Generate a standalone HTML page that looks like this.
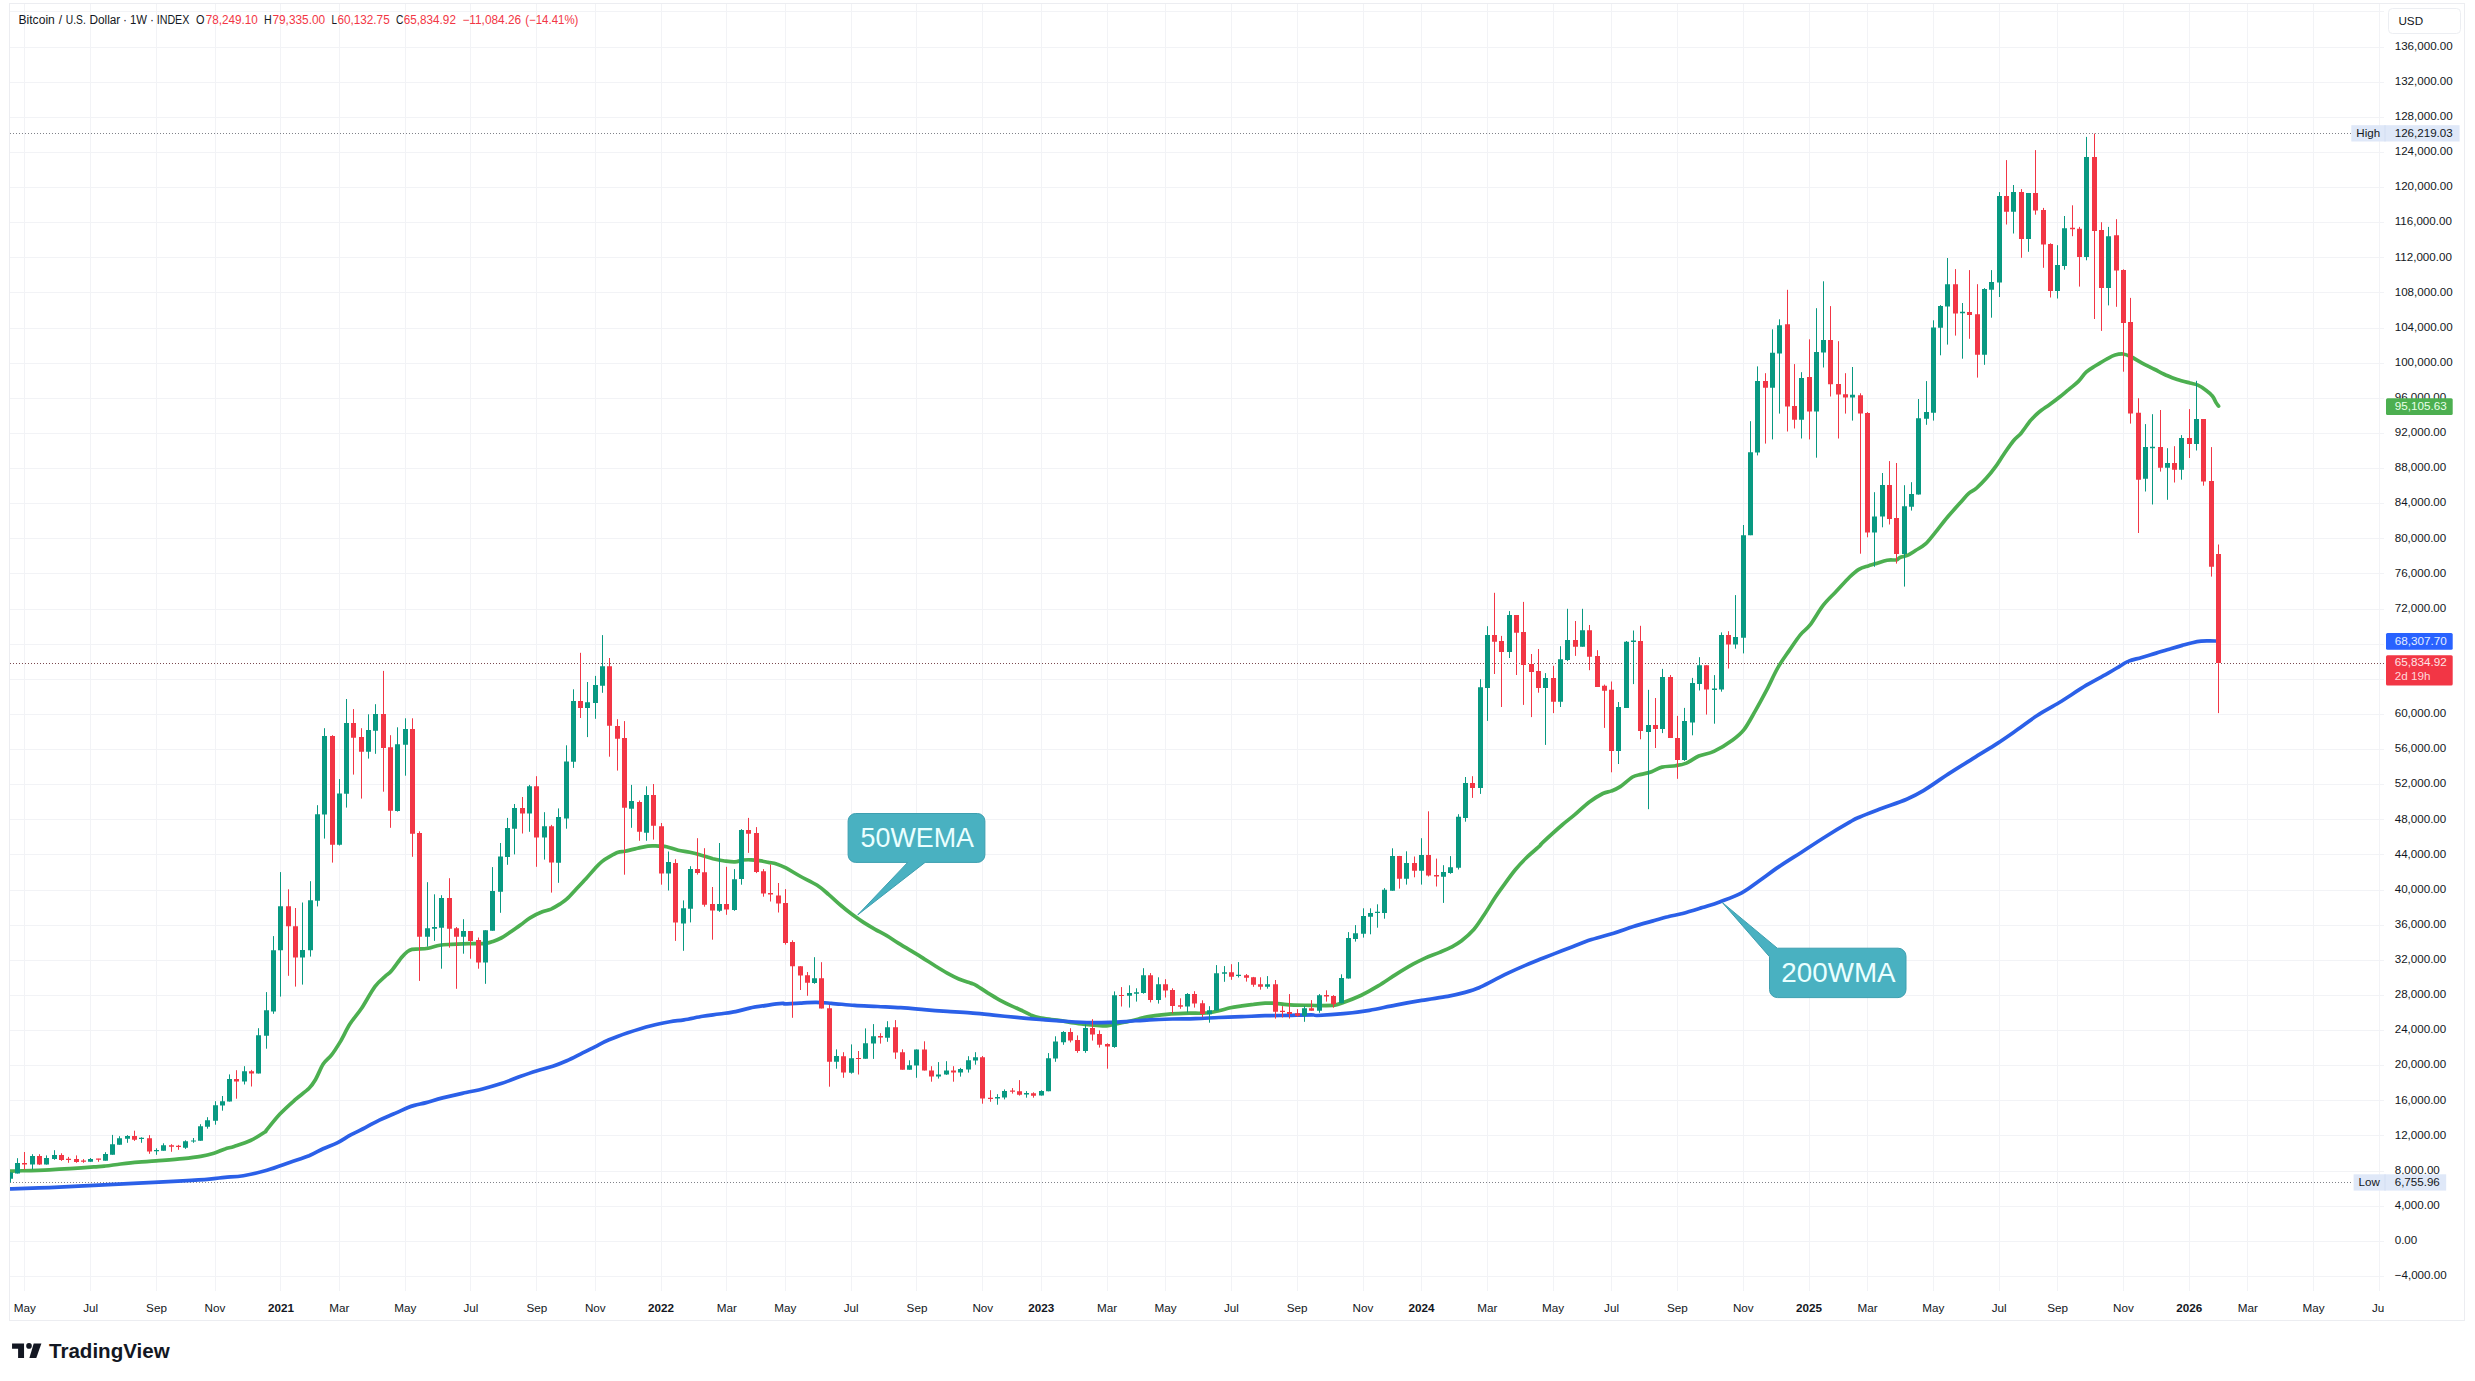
<!DOCTYPE html>
<html lang="en"><head><meta charset="utf-8"><title>Bitcoin / U.S. Dollar 1W</title>
<style>html,body{margin:0;padding:0;background:#fff}body{width:2475px;height:1381px;overflow:hidden}svg{display:block}</style></head>
<body>
<svg width="2475" height="1381" viewBox="0 0 2475 1381" font-family='"Liberation Sans", sans-serif'>
<rect width="2475" height="1381" fill="#fff"/>
<defs><clipPath id="pane"><rect x="10" y="4" width="2374" height="1287"/></clipPath><clipPath id="taxis"><rect x="10" y="1291" width="2374" height="30"/></clipPath></defs>
<rect x="9.5" y="3.5" width="2455" height="1317" fill="none" stroke="#ecedf1" stroke-width="1"/>
<path d="M24.5 4V1291 M90.5 4V1291 M156.5 4V1291 M215.5 4V1291 M280.5 4V1291 M339.5 4V1291 M405.5 4V1291 M470.5 4V1291 M536.5 4V1291 M595.5 4V1291 M661.5 4V1291 M726.5 4V1291 M785.5 4V1291 M851.5 4V1291 M916.5 4V1291 M982.5 4V1291 M1041.5 4V1291 M1107.5 4V1291 M1165.5 4V1291 M1231.5 4V1291 M1297.5 4V1291 M1363.5 4V1291 M1421.5 4V1291 M1487.5 4V1291 M1553.5 4V1291 M1611.5 4V1291 M1677.5 4V1291 M1743.5 4V1291 M1809.5 4V1291 M1867.5 4V1291 M1933.5 4V1291 M1999.5 4V1291 M2057.5 4V1291 M2123.5 4V1291 M2189.5 4V1291 M2247.5 4V1291 M2313.5 4V1291 M2379.5 4V1291 M10 1276.5H2384 M10 1241.5H2384 M10 1206.5H2384 M10 1171.5H2384 M10 1135.5H2384 M10 1100.5H2384 M10 1065.5H2384 M10 1030.5H2384 M10 995.5H2384 M10 960.5H2384 M10 925.5H2384 M10 890.5H2384 M10 854.5H2384 M10 819.5H2384 M10 784.5H2384 M10 749.5H2384 M10 714.5H2384 M10 679.5H2384 M10 644.5H2384 M10 609.5H2384 M10 573.5H2384 M10 538.5H2384 M10 503.5H2384 M10 468.5H2384 M10 433.5H2384 M10 398.5H2384 M10 363.5H2384 M10 328.5H2384 M10 292.5H2384 M10 257.5H2384 M10 222.5H2384 M10 187.5H2384 M10 152.5H2384 M10 117.5H2384 M10 82.5H2384 M10 47.5H2384 M10 11.5H2384" stroke="#f2f3f6" stroke-width="1" fill="none"/>
<path d="M10 133.5H2351" stroke="#808289" stroke-width="1" stroke-dasharray="1 2" fill="none"/>
<path d="M10 1182.5H2353" stroke="#808289" stroke-width="1" stroke-dasharray="1 2" fill="none"/>
<path d="M10 663.5H2384" stroke="#7a4a50" stroke-width="1" stroke-dasharray="1 2" fill="none"/>
<g clip-path="url(#pane)">
<path d="M5.0 1171.6C6.1 1171.5 4.3 1171.4 11.7 1171.1C19.1 1170.8 35.7 1170.5 49.4 1169.8C63.1 1169.1 84.6 1167.6 93.9 1166.9C103.2 1166.3 101.0 1166.5 105.4 1166.0C109.9 1165.6 115.1 1164.6 120.6 1164.0C126.0 1163.4 132.4 1162.7 138.3 1162.2C144.3 1161.7 148.7 1161.5 156.1 1160.9C163.5 1160.3 175.4 1159.4 182.8 1158.7C190.2 1157.9 195.4 1157.3 200.6 1156.4C205.7 1155.6 209.8 1154.6 213.9 1153.3C218.0 1152.1 221.6 1150.0 225.0 1148.9C228.4 1147.7 229.8 1147.8 234.1 1146.4C238.3 1145.0 245.4 1142.9 250.5 1140.5C255.5 1138.2 261.8 1134.1 264.5 1132.3C267.2 1130.6 264.1 1133.1 266.6 1130.0C269.2 1126.9 275.2 1119.0 279.9 1114.0C284.7 1109.0 290.1 1104.2 294.9 1099.9C299.8 1095.6 305.6 1091.7 309.1 1088.2C312.6 1084.7 313.4 1083.1 315.8 1079.0C318.1 1075.0 320.6 1068.1 323.2 1064.0C325.9 1060.0 328.8 1058.5 331.6 1054.9C334.4 1051.3 336.8 1047.5 339.9 1042.4C343.0 1037.3 346.3 1029.8 349.9 1024.1C353.5 1018.4 357.4 1014.5 361.6 1008.3C365.7 1002.0 371.0 991.9 374.9 986.6C378.8 981.3 382.1 979.2 384.9 976.6C387.6 974.0 388.8 974.0 391.5 970.8C394.3 967.6 398.9 960.7 401.5 957.5C404.2 954.3 405.6 953.0 407.4 951.6C409.1 950.3 410.0 949.8 412.0 949.4C413.9 949.0 416.2 949.2 418.9 949.0C421.6 948.9 424.7 948.9 428.2 948.2C431.6 947.6 435.9 945.9 439.8 945.2C443.6 944.6 447.5 944.6 451.3 944.4C455.2 944.2 459.1 944.0 462.9 943.8C466.8 943.7 470.6 943.7 474.5 943.6C478.4 943.5 483.0 943.6 486.1 943.3C489.2 942.9 490.5 942.4 493.0 941.5C495.6 940.6 498.4 939.5 501.2 938.0C503.9 936.6 506.0 935.1 509.3 932.8C512.5 930.6 517.4 927.2 520.8 924.7C524.3 922.2 526.6 919.9 530.1 917.8C533.6 915.6 538.2 913.4 541.7 912.0C545.2 910.5 547.9 910.4 551.0 909.1C554.1 907.7 557.5 905.6 560.2 903.9C562.9 902.1 564.5 901.2 567.2 898.7C569.9 896.1 573.4 892.1 576.5 888.8C579.5 885.5 582.6 882.3 585.7 879.0C588.8 875.6 592.3 871.4 595.0 868.5C597.7 865.6 599.4 863.6 601.9 861.6C604.4 859.6 607.3 857.9 610.0 856.4C612.8 854.8 615.6 853.2 618.2 852.3C620.7 851.4 621.9 851.8 625.1 851.2C628.3 850.5 633.7 849.2 637.5 848.3C641.3 847.5 645.0 846.5 647.9 846.1C650.8 845.7 651.9 845.8 655.0 845.9C658.1 846.0 662.7 846.1 666.6 846.8C670.4 847.6 674.3 849.4 678.2 850.3C682.0 851.2 685.9 851.5 689.8 852.3C693.6 853.1 697.5 854.1 701.3 855.2C705.2 856.2 709.1 857.7 712.9 858.7C716.8 859.6 720.8 860.4 724.5 861.0C728.2 861.5 731.8 862.1 734.9 861.9C738.0 861.7 740.3 860.4 743.0 860.0C745.7 859.7 748.4 859.7 751.2 859.8C753.9 859.9 756.4 860.2 759.3 860.6C762.2 861.0 765.6 861.8 768.5 862.4C771.4 862.9 773.7 862.9 776.6 863.9C779.5 864.8 782.0 865.9 785.9 867.9C789.8 870.0 794.6 873.1 799.8 876.0C805.0 878.9 812.4 882.2 817.2 885.3C822.0 888.4 824.9 891.3 828.8 894.6C832.6 897.8 836.5 901.7 840.4 905.0C844.2 908.3 848.1 911.4 851.9 914.3C855.8 917.2 859.7 919.9 863.5 922.4C867.4 924.9 871.2 927.1 875.1 929.3C879.0 931.5 882.8 933.4 886.7 935.7C890.6 938.0 894.4 940.8 898.3 943.2C902.1 945.6 906.0 947.9 909.9 950.2C913.7 952.5 917.3 954.5 921.4 957.1C925.6 959.7 930.7 963.1 935.0 965.8C939.3 968.5 943.2 971.0 947.2 973.2C951.1 975.4 954.9 977.3 958.8 979.0C962.6 980.6 967.5 982.0 970.4 983.0C973.2 984.1 973.2 983.7 976.1 985.3C979.0 987.0 983.9 990.4 987.7 992.9C991.6 995.3 995.5 997.7 999.3 999.8C1003.2 1001.9 1007.0 1003.8 1010.9 1005.6C1014.8 1007.4 1019.2 1009.3 1022.5 1010.8C1025.8 1012.4 1027.7 1013.7 1030.6 1014.9C1033.5 1016.0 1036.4 1017.0 1039.9 1017.8C1043.3 1018.5 1047.7 1019.0 1051.4 1019.5C1055.2 1020.0 1058.6 1020.4 1062.4 1020.9C1066.1 1021.5 1070.1 1022.4 1074.0 1023.0C1077.8 1023.6 1081.7 1024.0 1085.5 1024.4C1089.4 1024.8 1093.7 1025.1 1097.1 1025.3C1100.6 1025.6 1103.1 1026.2 1106.4 1025.9C1109.7 1025.7 1113.2 1024.6 1116.8 1023.8C1120.5 1023.1 1124.9 1022.3 1128.4 1021.5C1131.9 1020.7 1135.2 1019.9 1137.7 1019.2C1140.2 1018.5 1140.6 1018.0 1143.5 1017.5C1146.4 1016.9 1151.2 1016.2 1155.1 1015.7C1158.9 1015.2 1162.8 1014.7 1166.6 1014.3C1170.5 1014.0 1174.4 1013.8 1178.2 1013.6C1182.1 1013.4 1185.9 1013.3 1189.8 1013.2C1193.7 1013.1 1197.9 1013.3 1201.4 1013.2C1204.9 1013.1 1207.8 1012.9 1210.7 1012.5C1213.6 1012.1 1215.5 1011.5 1218.8 1010.7C1222.1 1010.0 1226.5 1008.7 1230.4 1007.8C1234.2 1007.0 1238.1 1006.5 1241.9 1005.9C1245.8 1005.3 1249.7 1004.8 1253.5 1004.4C1257.4 1003.9 1262.0 1003.4 1265.1 1003.2C1268.2 1003.0 1269.2 1003.1 1272.1 1003.2C1275.0 1003.4 1278.8 1003.8 1282.5 1004.1C1286.2 1004.5 1289.2 1004.9 1294.1 1005.1C1298.9 1005.3 1307.6 1005.2 1311.4 1005.3C1315.3 1005.4 1313.5 1005.6 1317.4 1005.6C1321.3 1005.5 1330.4 1005.6 1334.8 1005.1C1339.1 1004.5 1339.1 1004.0 1343.4 1002.4C1347.8 1000.9 1355.0 998.2 1360.8 995.5C1366.6 992.7 1372.4 989.4 1378.2 985.9C1384.0 982.5 1389.8 978.3 1395.6 974.6C1401.4 971.0 1408.0 967.0 1413.0 964.2C1417.9 961.5 1420.8 960.1 1425.1 958.1C1429.5 956.2 1434.7 954.4 1439.0 952.6C1443.4 950.7 1447.4 949.2 1451.2 947.2C1455.0 945.2 1457.9 943.7 1461.6 940.8C1465.4 937.8 1470.0 933.8 1473.8 929.5C1477.6 925.1 1480.7 919.9 1484.2 914.7C1487.7 909.5 1491.2 903.4 1494.6 898.2C1498.1 893.0 1501.6 888.2 1505.1 883.4C1508.5 878.6 1512.0 873.7 1515.5 869.5C1519.0 865.3 1521.8 862.2 1525.9 858.2C1530.0 854.2 1537.3 848.3 1540.0 845.7C1542.7 843.1 1538.6 846.3 1542.3 842.8C1546.0 839.4 1556.6 829.7 1562.1 825.0C1567.6 820.3 1570.6 818.2 1575.1 814.4C1579.6 810.6 1584.4 805.7 1589.0 802.2C1593.7 798.8 1599.2 795.4 1602.9 793.5C1606.7 791.7 1608.7 792.1 1611.6 790.9C1614.5 789.8 1616.8 788.9 1620.3 786.6C1623.8 784.3 1629.0 779.1 1632.5 777.0C1636.0 775.0 1638.0 775.3 1641.2 774.4C1644.4 773.6 1648.1 773.0 1651.6 771.8C1655.1 770.6 1658.0 768.1 1662.0 767.1C1666.1 766.1 1671.9 766.4 1675.9 765.7C1680.0 765.1 1682.5 764.7 1686.4 763.1C1690.2 761.5 1694.2 758.0 1698.8 756.0C1703.4 754.1 1708.2 754.0 1713.9 751.3C1719.5 748.7 1727.7 743.7 1732.7 740.0C1737.7 736.4 1740.2 734.6 1744.0 729.7C1747.8 724.8 1751.5 717.5 1755.3 710.9C1759.1 704.3 1762.8 697.4 1766.6 690.2C1770.4 682.9 1774.1 674.1 1777.9 667.6C1781.7 661.0 1785.4 656.1 1789.2 650.6C1793.0 645.1 1797.0 638.8 1800.5 634.6C1803.9 630.4 1806.1 630.1 1809.9 625.2C1813.7 620.3 1818.7 611.1 1823.1 605.4C1827.5 599.8 1831.9 596.0 1836.3 591.3C1840.7 586.6 1845.7 580.9 1849.4 577.2C1853.2 573.5 1855.7 571.2 1858.9 569.3C1862.0 567.4 1865.4 566.8 1868.3 565.9C1871.1 565.0 1872.7 564.6 1875.8 563.6C1878.9 562.7 1883.6 560.9 1887.1 560.2C1890.5 559.6 1894.4 560.3 1896.5 559.9C1898.7 559.4 1898.1 558.3 1900.0 557.5C1901.9 556.6 1905.3 556.3 1908.0 555.1C1910.6 553.9 1913.0 552.1 1915.9 550.3C1918.9 548.4 1922.3 546.8 1925.5 543.9C1928.7 541.0 1931.3 537.3 1935.0 532.8C1938.8 528.2 1943.5 521.9 1947.8 516.8C1952.0 511.8 1957.1 506.3 1960.5 502.5C1964.0 498.6 1965.8 496.1 1968.5 493.7C1971.2 491.3 1973.5 490.7 1976.5 488.2C1979.4 485.6 1982.8 482.2 1986.0 478.6C1989.2 475.0 1992.7 470.6 1995.6 466.6C1998.5 462.7 2000.6 458.9 2003.5 454.7C2006.5 450.5 2010.2 444.7 2013.1 441.2C2016.0 437.6 2018.2 436.6 2021.1 433.2C2024.0 429.7 2027.7 423.9 2030.6 420.4C2033.6 417.0 2035.4 415.1 2038.6 412.5C2041.8 409.8 2046.3 407.0 2049.7 404.5C2053.2 402.0 2056.1 399.9 2059.3 397.3C2062.5 394.8 2065.7 392.0 2068.9 389.4C2072.0 386.7 2075.5 384.3 2078.4 381.4C2081.3 378.5 2083.5 374.5 2086.4 371.9C2089.3 369.2 2092.5 367.7 2095.9 365.5C2099.4 363.3 2103.9 360.5 2107.1 358.8C2110.3 357.1 2112.4 355.9 2115.1 355.1C2117.7 354.3 2120.4 353.8 2123.0 354.0C2125.7 354.3 2127.8 355.2 2131.0 356.7C2134.2 358.2 2138.2 361.0 2142.1 363.1C2146.1 365.2 2150.6 367.3 2154.9 369.5C2159.1 371.6 2163.9 374.2 2167.6 375.8C2171.3 377.5 2173.5 378.3 2177.2 379.5C2180.9 380.7 2186.5 382.1 2189.9 383.0C2193.4 383.9 2195.2 383.9 2197.9 385.1C2200.6 386.3 2203.5 388.4 2205.9 390.2C2208.3 392.0 2210.5 393.6 2212.2 395.8C2214.0 397.9 2215.2 401.2 2216.2 402.9C2217.3 404.7 2218.2 405.6 2218.6 406.1" fill="none" stroke="#4caf50" stroke-width="3.7" stroke-linejoin="round" stroke-linecap="round"/>
<path d="M5.0 1189.2C6.1 1189.1 4.3 1189.2 11.7 1188.9C19.1 1188.6 35.7 1188.1 49.4 1187.6C63.1 1187.0 79.1 1186.1 93.9 1185.3C108.7 1184.6 123.5 1183.9 138.3 1183.1C153.1 1182.4 170.9 1181.6 182.8 1180.9C194.6 1180.2 202.4 1179.7 209.4 1179.1C216.5 1178.5 219.3 1177.9 225.0 1177.3C230.7 1176.8 236.5 1176.9 243.4 1175.7C250.4 1174.5 259.1 1172.5 266.9 1170.3C274.7 1168.1 283.3 1164.7 290.3 1162.3C297.3 1159.9 303.6 1158.0 309.1 1155.8C314.5 1153.5 318.4 1150.9 323.1 1148.7C327.8 1146.6 332.5 1145.2 337.2 1142.9C341.9 1140.5 346.5 1137.2 351.2 1134.7C355.9 1132.1 360.6 1130.1 365.3 1127.6C370.0 1125.2 374.7 1122.4 379.4 1120.1C384.0 1117.9 388.7 1116.1 393.4 1114.0C398.1 1112.0 404.0 1109.2 407.5 1107.7C411.0 1106.3 411.4 1106.2 414.5 1105.4C417.6 1104.5 421.5 1103.8 426.2 1102.6C430.9 1101.3 436.0 1099.6 442.6 1097.9C449.3 1096.2 459.4 1094.0 466.1 1092.5C472.7 1091.0 476.6 1090.5 482.5 1089.0C488.3 1087.5 495.0 1085.6 501.2 1083.6C507.5 1081.5 514.1 1078.7 520.0 1076.5C525.8 1074.4 530.9 1072.6 536.4 1070.9C541.8 1069.2 547.7 1067.9 552.8 1066.2C557.8 1064.6 562.1 1062.9 566.8 1060.8C571.5 1058.8 576.2 1056.2 580.9 1053.8C585.6 1051.5 590.3 1049.1 594.9 1046.8C599.6 1044.4 603.5 1042.1 609.0 1039.8C614.5 1037.4 620.7 1035.1 627.8 1032.7C634.8 1030.4 644.2 1027.5 651.2 1025.7C658.2 1023.9 664.5 1022.7 669.9 1021.7C675.4 1020.7 678.5 1020.7 684.0 1019.8C689.5 1018.9 696.9 1017.3 702.7 1016.3C708.6 1015.3 713.7 1014.8 719.2 1014.0C724.6 1013.2 730.5 1012.6 735.6 1011.6C740.6 1010.7 744.1 1009.2 749.6 1008.1C755.1 1007.0 762.9 1005.9 768.4 1005.1C773.8 1004.3 779.7 1003.6 782.4 1003.4C785.2 1003.2 782.1 1003.9 785.0 1003.9C787.9 1003.8 794.8 1003.3 800.1 1003.1C805.3 1002.8 811.1 1002.3 816.3 1002.4C821.5 1002.4 825.0 1002.8 831.3 1003.3C837.7 1003.8 846.8 1004.8 854.5 1005.4C862.2 1005.9 870.0 1006.1 877.7 1006.5C885.4 1006.9 893.1 1007.2 900.8 1007.7C908.6 1008.2 916.3 1009.0 924.0 1009.7C931.7 1010.3 939.5 1010.9 947.2 1011.4C954.9 1011.9 962.6 1012.3 970.4 1012.9C978.1 1013.5 985.8 1014.4 993.5 1015.1C1001.2 1015.9 1009.0 1016.7 1016.7 1017.4C1024.4 1018.2 1035.1 1019.1 1039.9 1019.5C1044.6 1019.9 1040.3 1019.4 1045.0 1019.8C1049.7 1020.1 1060.4 1021.0 1068.2 1021.5C1075.9 1022.0 1084.4 1022.5 1091.3 1022.7C1098.3 1022.8 1104.1 1022.6 1109.9 1022.4C1115.7 1022.3 1119.5 1022.0 1126.1 1021.5C1132.7 1021.1 1141.5 1020.2 1149.3 1019.8C1157.0 1019.4 1164.7 1019.2 1172.4 1019.0C1180.2 1018.8 1187.9 1018.9 1195.6 1018.6C1203.3 1018.4 1211.0 1017.8 1218.8 1017.5C1226.5 1017.1 1234.2 1016.9 1241.9 1016.7C1249.7 1016.4 1257.4 1015.9 1265.1 1015.7C1272.8 1015.5 1280.6 1015.5 1288.3 1015.4C1296.0 1015.2 1306.6 1014.8 1311.4 1014.8C1316.3 1014.8 1312.0 1015.7 1317.4 1015.5C1322.7 1015.3 1334.8 1014.6 1343.4 1013.7C1352.1 1012.9 1360.8 1011.7 1369.5 1010.3C1378.2 1008.8 1386.9 1006.7 1395.6 1005.1C1404.3 1003.4 1413.0 1001.8 1421.7 1000.4C1430.3 998.9 1440.5 997.7 1447.7 996.4C1455.0 995.0 1459.9 993.8 1465.1 992.4C1470.3 990.9 1474.1 989.8 1479.0 987.7C1483.9 985.6 1489.7 982.3 1494.6 979.9C1499.6 977.4 1503.3 975.4 1508.5 972.9C1513.8 970.4 1520.7 967.3 1525.9 965.1C1531.2 962.8 1535.2 961.3 1540.0 959.3C1544.8 957.4 1549.3 955.7 1554.6 953.6C1559.9 951.5 1565.7 949.3 1571.9 947.0C1578.0 944.6 1584.6 941.9 1591.5 939.6C1598.5 937.3 1606.7 935.3 1613.7 933.2C1620.7 931.0 1626.8 928.6 1633.4 926.5C1640.0 924.5 1647.4 922.5 1653.1 920.9C1658.8 919.2 1662.9 917.9 1667.9 916.7C1672.8 915.4 1676.9 915.0 1682.6 913.5C1688.4 912.0 1696.2 909.5 1702.3 907.6C1708.5 905.6 1713.0 904.4 1719.6 901.9C1726.1 899.4 1735.2 896.3 1741.7 892.8C1748.3 889.3 1752.8 885.3 1759.0 881.0C1765.1 876.7 1771.7 871.7 1778.7 866.9C1785.6 862.2 1793.0 857.7 1800.8 852.7C1808.6 847.6 1817.2 841.8 1825.4 836.7C1833.6 831.5 1844.3 825.2 1850.1 821.9C1855.8 818.6 1854.6 819.2 1859.9 817.0C1865.2 814.7 1874.3 811.3 1882.1 808.3C1889.9 805.4 1899.7 802.2 1906.7 799.2C1913.7 796.2 1916.9 794.6 1923.9 790.4C1930.9 786.1 1940.3 779.2 1948.5 773.9C1956.7 768.5 1965.0 763.5 1973.2 758.4C1981.4 753.2 1990.4 747.9 1997.8 743.1C2005.2 738.3 2010.9 734.2 2017.5 729.6C2024.0 725.0 2030.2 720.0 2037.2 715.5C2044.1 711.0 2051.1 707.5 2059.3 702.5C2067.5 697.4 2078.2 690.2 2086.4 685.2C2094.6 680.3 2103.0 676.1 2108.6 672.9C2114.2 669.7 2116.6 668.1 2120.0 666.1C2123.4 664.2 2125.1 662.5 2128.7 661.1C2132.3 659.6 2137.1 658.8 2141.7 657.4C2146.3 656.1 2151.4 654.5 2156.2 653.1C2161.0 651.7 2166.3 650.0 2170.7 648.8C2175.0 647.5 2178.7 646.4 2182.3 645.4C2185.9 644.4 2189.3 643.4 2192.4 642.7C2195.5 642.0 2198.2 641.5 2201.1 641.2C2204.0 640.9 2206.9 641.0 2209.8 640.9C2212.7 640.9 2217.0 641.1 2218.5 641.1" fill="none" stroke="#2b60e8" stroke-width="3.7" stroke-linejoin="round" stroke-linecap="round"/>
<path d="M10.5 1172.4V1182.2M17.5 1158.2V1173.5M32.5 1154.2V1169.3M46.5 1155.4V1164.6M54.5 1150.2V1159.8M90.5 1158.0V1161.8M105.5 1152.2V1160.7M112.5 1134.9V1154.7M119.5 1136.2V1144.7M127.5 1135.1V1142.8M141.5 1137.3V1142.8M156.5 1148.3V1154.8M163.5 1143.3V1150.7M185.5 1140.3V1148.9M193.5 1138.0V1142.8M200.5 1124.2V1140.8M207.5 1117.2V1128.7M215.5 1101.2V1124.7M222.5 1096.0V1110.7M229.5 1074.4V1101.5M244.5 1066.2V1084.5M258.5 1028.2V1073.5M266.5 992.1V1048.7M273.5 936.1V1013.8M280.5 872.1V996.6M302.5 902.5V984.6M310.5 881.2V956.6M317.5 805.2V906.4M324.5 728.2V838.6M339.5 779.1V845.5M346.5 699.0V807.6M368.5 714.3V758.6M375.5 704.2V753.8M397.5 727.3V811.6M405.5 718.3V775.7M427.5 882.2V946.7M434.5 894.3V940.9M441.5 895.2V968.7M463.5 919.2V953.7M485.5 930.2V983.8M492.5 867.1V930.7M500.5 843.0V912.8M507.5 817.9V864.8M514.5 804.0V854.4M529.5 784.9V831.8M544.5 812.2V859.6M558.5 808.4V882.8M566.5 745.3V828.7M573.5 689.3V767.9M587.5 682.0V737.1M595.5 675.9V718.8M602.5 635.1V692.8M631.5 784.9V827.8M646.5 786.3V840.8M668.5 851.5V890.5M683.5 900.4V950.8M690.5 866.2V922.4M719.5 843.0V911.9M734.5 869.1V910.8M741.5 829.1V884.7M814.5 957.2V983.8M836.5 1049.4V1068.7M851.5 1044.4V1073.7M865.5 1028.4V1058.7M873.5 1024.1V1058.9M887.5 1021.2V1041.8M909.5 1060.3V1069.7M916.5 1049.4V1077.8M938.5 1062.1V1078.6M946.5 1061.2V1074.9M960.5 1067.9V1076.6M968.5 1056.2V1072.6M975.5 1052.2V1064.7M997.5 1094.2V1104.7M1004.5 1089.4V1099.4M1026.5 1091.1V1097.7M1041.5 1090.2V1095.6M1048.5 1053.1V1091.3M1055.5 1036.3V1061.8M1063.5 1031.1V1044.8M1085.5 1024.4V1052.8M1114.5 991.4V1047.8M1129.5 985.3V1007.6M1136.5 988.3V1001.6M1143.5 968.2V993.7M1158.5 977.3V1003.6M1187.5 993.1V1012.5M1209.5 1006.2V1022.7M1216.5 965.1V1010.5M1224.5 966.1V981.8M1238.5 962.1V977.5M1267.5 976.1V988.7M1304.5 1005.9V1021.8M1319.5 994.1V1012.8M1341.5 974.3V1003.3M1348.5 932.1V978.6M1355.5 925.1V941.6M1363.5 908.3V937.6M1370.5 908.3V934.3M1377.5 904.3V927.7M1384.5 888.1V918.7M1392.5 848.3V890.7M1406.5 851.3V884.6M1421.5 838.2V884.6M1443.5 865.2V902.9M1450.5 856.1V873.8M1458.5 814.2V869.5M1465.5 777.0V821.7M1480.5 679.2V793.9M1487.5 626.2V720.9M1509.5 611.1V658.0M1545.5 673.1V744.9M1560.5 646.2V707.0M1567.5 608.8V661.1M1582.5 608.8V646.7M1618.5 702.0V764.0M1626.5 641.0V707.9M1633.5 630.5V684.1M1648.5 689.8V809.2M1662.5 668.9V733.1M1684.5 707.9V760.9M1692.5 677.9V735.3M1699.5 657.2V690.5M1714.5 675.1V723.7M1721.5 632.4V691.7M1735.5 595.1V648.7M1743.5 525.0V653.4M1750.5 421.2V535.2M1757.5 366.4V455.4M1772.5 329.3V439.4M1779.5 319.3V413.6M1801.5 372.2V438.5M1816.5 308.2V457.7M1823.5 281.3V367.5M1852.5 367.0V420.6M1874.5 492.2V566.8M1882.5 473.0V527.3M1904.5 485.2V586.6M1911.5 482.2V510.6M1918.5 399.0V494.6M1926.5 381.1V424.8M1933.5 320.3V420.6M1940.5 305.1V355.3M1947.5 258.0V344.6M1962.5 303.0V358.7M1984.5 288.1V364.8M1991.5 270.1V317.7M1999.5 192.1V297.0M2013.5 185.0V233.5M2028.5 193.0V251.8M2057.5 245.2V298.5M2064.5 216.0V269.7M2086.5 136.9V260.3M2108.5 226.9V305.4M2145.5 424.1V491.5M2152.5 414.2V504.5M2167.5 448.2V499.8M2181.5 435.1V479.7M2196.5 380.8V450.5" stroke="#089981" stroke-width="1" fill="none"/>
<path d="M24.5 1152.0V1169.8M39.5 1154.2V1164.9M61.5 1153.3V1160.9M68.5 1156.9V1162.8M76.5 1155.4V1162.8M83.5 1159.1V1162.8M98.5 1158.8V1161.8M134.5 1130.7V1140.9M149.5 1135.1V1153.8M171.5 1144.2V1151.8M178.5 1144.9V1149.8M236.5 1070.2V1098.7M251.5 1069.9V1086.5M288.5 889.3V975.8M295.5 908.0V986.6M332.5 735.2V862.6M353.5 709.1V774.6M361.5 728.2V798.6M383.5 670.9V791.7M390.5 735.2V827.8M412.5 718.3V856.8M419.5 831.3V980.9M449.5 878.2V947.7M456.5 927.0V988.8M470.5 931.1V958.7M478.5 937.5V968.7M522.5 797.0V833.5M536.5 776.2V866.8M551.5 824.9V892.6M580.5 652.8V718.0M609.5 658.0V756.7M617.5 719.2V770.6M624.5 721.1V874.7M639.5 800.5V840.8M653.5 784.0V839.6M661.5 823.0V884.7M675.5 859.2V940.9M697.5 838.2V874.6M704.5 848.2V906.7M712.5 887.0V939.7M726.5 866.8V914.8M748.5 817.9V852.9M756.5 827.1V873.1M763.5 869.1V896.7M770.5 864.4V901.5M778.5 883.0V912.5M785.5 889.1V944.6M792.5 940.3V1017.8M800.5 966.2V990.0M807.5 972.0V995.8M821.5 962.2V1008.5M829.5 1005.0V1086.7M843.5 1052.2V1077.8M858.5 1051.0V1074.5M880.5 1033.2V1043.6M895.5 1020.1V1058.9M902.5 1049.3V1069.7M924.5 1041.3V1070.5M931.5 1066.2V1081.7M953.5 1066.2V1081.7M982.5 1056.0V1103.7M990.5 1090.2V1101.8M1012.5 1088.1V1093.6M1019.5 1080.1V1095.6M1033.5 1092.3V1097.7M1070.5 1028.2V1042.4M1077.5 1035.4V1052.8M1092.5 1019.2V1040.6M1099.5 1030.4V1047.6M1107.5 1043.3V1068.7M1121.5 987.1V1006.5M1150.5 973.1V1002.4M1165.5 979.2V997.5M1172.5 988.3V1013.4M1180.5 998.3V1008.8M1194.5 991.2V1007.6M1202.5 1000.3V1017.1M1231.5 964.2V979.8M1246.5 974.0V981.6M1253.5 976.9V986.8M1260.5 977.3V989.7M1275.5 980.0V1018.6M1282.5 1006.1V1017.5M1289.5 994.1V1018.6M1297.5 1009.1V1016.7M1311.5 1000.1V1010.7M1326.5 990.3V1001.6M1333.5 995.1V1007.7M1399.5 855.9V888.6M1414.5 856.5V877.3M1428.5 811.3V876.5M1436.5 858.6V886.5M1472.5 776.2V797.9M1494.5 592.8V674.0M1501.5 635.9V707.0M1516.5 615.1V675.0M1523.5 601.9V704.9M1531.5 654.0V717.1M1538.5 649.0V692.7M1553.5 665.8V713.1M1575.5 621.0V655.9M1589.5 625.0V670.2M1597.5 650.2V687.0M1604.5 684.6V727.9M1611.5 681.5V772.3M1640.5 625.8V739.3M1655.5 698.0V748.0M1670.5 675.0V737.9M1677.5 715.9V778.8M1706.5 665.3V714.6M1728.5 631.2V668.5M1765.5 373.2V443.6M1787.5 289.8V431.5M1794.5 364.1V428.5M1809.5 339.3V439.4M1830.5 306.1V396.5M1838.5 341.2V438.5M1845.5 373.2V413.6M1860.5 393.3V553.7M1867.5 412.1V537.3M1889.5 461.1V524.5M1896.5 463.0V563.6M1955.5 269.1V335.6M1969.5 270.1V338.8M1977.5 284.2V377.6M2006.5 160.1V224.5M2021.5 189.1V257.8M2035.5 150.1V214.7M2043.5 207.9V267.8M2050.5 243.3V297.5M2072.5 205.3V236.2M2079.5 226.9V286.6M2094.5 133.6V319.0M2101.5 222.2V330.9M2116.5 219.2V306.8M2123.5 269.3V371.7M2130.5 297.9V423.6M2138.5 398.2V533.0M2160.5 410.0V471.6M2174.5 446.2V482.5M2189.5 409.1V458.0M2203.5 419.1V485.7M2211.5 447.1V576.6M2218.5 544.5V713.1" stroke="#f23645" stroke-width="1" fill="none"/>
<path d="M8.0 1172.4h5V1178.7h-5zM15.0 1163.1h5V1173.5h-5zM30.0 1156.0h5V1164.6h-5zM44.0 1158.0h5V1164.6h-5zM52.0 1155.1h5V1158.9h-5zM88.0 1159.1h5V1161.8h-5zM103.0 1154.0h5V1160.7h-5zM110.0 1144.2h5V1154.7h-5zM117.0 1138.2h5V1144.7h-5zM125.0 1136.0h5V1138.7h-5zM139.0 1137.8h5V1139.0h-5zM154.0 1150.1h5V1151.3h-5zM161.0 1145.3h5V1150.7h-5zM183.0 1141.3h5V1147.7h-5zM191.0 1140.4h5V1141.6h-5zM198.0 1126.2h5V1140.8h-5zM205.0 1120.2h5V1126.7h-5zM213.0 1105.2h5V1120.7h-5zM220.0 1101.2h5V1105.6h-5zM227.0 1079.0h5V1101.5h-5zM242.0 1071.2h5V1081.5h-5zM256.0 1035.2h5V1073.5h-5zM264.0 1010.3h5V1035.7h-5zM271.0 950.3h5V1011.6h-5zM278.0 906.3h5V950.3h-5zM300.0 950.0h5V957.5h-5zM308.0 900.3h5V950.3h-5zM315.0 814.2h5V900.8h-5zM322.0 736.0h5V814.6h-5zM337.0 793.4h5V844.7h-5zM344.0 723.0h5V793.7h-5zM366.0 730.0h5V751.7h-5zM373.0 714.0h5V730.8h-5zM395.0 744.2h5V811.1h-5zM403.0 729.1h5V744.7h-5zM425.0 928.2h5V936.7h-5zM432.0 927.0h5V928.8h-5zM439.0 898.1h5V927.8h-5zM461.0 931.1h5V936.7h-5zM483.0 930.2h5V962.6h-5zM490.0 891.1h5V930.7h-5zM498.0 856.4h5V891.7h-5zM505.0 828.0h5V857.0h-5zM512.0 808.0h5V828.7h-5zM527.0 786.3h5V813.6h-5zM542.0 826.2h5V837.4h-5zM556.0 817.0h5V862.7h-5zM564.0 761.4h5V818.4h-5zM571.0 701.1h5V761.8h-5zM585.0 702.3h5V707.9h-5zM593.0 685.0h5V702.9h-5zM600.0 666.2h5V685.8h-5zM629.0 801.0h5V808.7h-5zM644.0 795.0h5V832.7h-5zM666.0 862.1h5V873.5h-5zM681.0 908.2h5V923.5h-5zM688.0 869.1h5V908.7h-5zM717.0 904.1h5V910.8h-5zM732.0 879.2h5V909.9h-5zM739.0 829.9h5V878.9h-5zM812.0 978.2h5V983.0h-5zM834.0 1056.0h5V1061.8h-5zM849.0 1058.3h5V1072.8h-5zM863.0 1043.3h5V1058.7h-5zM871.0 1036.3h5V1043.6h-5zM885.0 1027.3h5V1037.7h-5zM907.0 1065.3h5V1069.7h-5zM914.0 1049.4h5V1065.5h-5zM936.0 1074.5h5V1076.5h-5zM944.0 1070.5h5V1074.5h-5zM958.0 1069.1h5V1072.6h-5zM966.0 1060.3h5V1069.6h-5zM973.0 1057.2h5V1060.6h-5zM995.0 1097.1h5V1098.6h-5zM1002.0 1091.1h5V1097.5h-5zM1024.0 1093.1h5V1094.5h-5zM1039.0 1091.1h5V1095.6h-5zM1046.0 1058.3h5V1091.3h-5zM1053.0 1041.5h5V1058.5h-5zM1061.0 1032.0h5V1042.3h-5zM1083.0 1027.9h5V1051.1h-5zM1112.0 995.2h5V1047.0h-5zM1127.0 993.1h5V995.8h-5zM1134.0 992.2h5V993.7h-5zM1141.0 975.2h5V992.9h-5zM1156.0 984.2h5V999.9h-5zM1185.0 994.1h5V1006.5h-5zM1207.0 1010.2h5V1014.2h-5zM1214.0 973.2h5V1010.5h-5zM1222.0 972.3h5V973.8h-5zM1236.0 974.8h5V976.0h-5zM1265.0 984.2h5V986.8h-5zM1302.0 1008.2h5V1015.7h-5zM1317.0 995.2h5V1010.7h-5zM1339.0 978.1h5V1003.3h-5zM1346.0 938.1h5V978.6h-5zM1353.0 933.3h5V939.0h-5zM1361.0 916.1h5V933.8h-5zM1368.0 912.9h5V916.8h-5zM1375.0 911.7h5V913.1h-5zM1382.0 889.8h5V912.9h-5zM1390.0 855.9h5V890.7h-5zM1404.0 863.1h5V878.7h-5zM1419.0 855.1h5V870.7h-5zM1441.0 872.1h5V876.8h-5zM1448.0 867.2h5V873.0h-5zM1456.0 816.8h5V867.8h-5zM1463.0 783.1h5V817.9h-5zM1478.0 687.2h5V788.0h-5zM1485.0 635.1h5V687.9h-5zM1507.0 615.1h5V651.9h-5zM1543.0 678.0h5V688.1h-5zM1558.0 659.2h5V701.8h-5zM1565.0 640.1h5V660.1h-5zM1580.0 630.2h5V646.7h-5zM1616.0 707.0h5V751.0h-5zM1624.0 641.8h5V707.9h-5zM1631.0 640.6h5V642.0h-5zM1646.0 724.9h5V731.9h-5zM1660.0 677.1h5V728.9h-5zM1682.0 721.1h5V760.0h-5zM1690.0 683.0h5V722.5h-5zM1697.0 665.3h5V683.9h-5zM1712.0 688.6h5V690.0h-5zM1719.0 635.0h5V689.6h-5zM1733.0 637.1h5V644.6h-5zM1741.0 535.2h5V637.8h-5zM1748.0 452.2h5V535.2h-5zM1755.0 381.1h5V452.6h-5zM1770.0 352.8h5V387.7h-5zM1777.0 325.2h5V353.4h-5zM1799.0 377.9h5V419.7h-5zM1814.0 351.9h5V411.6h-5zM1821.0 340.0h5V352.5h-5zM1850.0 394.8h5V397.6h-5zM1872.0 516.4h5V532.6h-5zM1880.0 485.0h5V516.6h-5zM1902.0 506.3h5V554.0h-5zM1909.0 494.0h5V506.8h-5zM1916.0 418.2h5V494.6h-5zM1924.0 412.1h5V418.7h-5zM1931.0 327.4h5V412.7h-5zM1938.0 306.0h5V327.7h-5zM1945.0 284.2h5V306.4h-5zM1960.0 311.7h5V313.2h-5zM1982.0 288.9h5V354.8h-5zM1989.0 281.9h5V289.8h-5zM1997.0 195.9h5V282.5h-5zM2011.0 192.1h5V211.7h-5zM2026.0 193.0h5V239.0h-5zM2055.0 265.0h5V290.9h-5zM2062.0 228.3h5V265.9h-5zM2084.0 157.1h5V256.9h-5zM2106.0 236.2h5V287.9h-5zM2143.0 447.1h5V478.7h-5zM2150.0 446.7h5V448.2h-5zM2165.0 463.1h5V467.8h-5zM2179.0 437.9h5V469.7h-5zM2194.0 419.1h5V443.9h-5z" fill="#089981"/>
<path d="M22.0 1163.1h5V1164.4h-5zM37.0 1156.0h5V1164.6h-5zM59.0 1155.1h5V1160.0h-5zM66.0 1158.8h5V1160.0h-5zM74.0 1159.1h5V1162.0h-5zM81.0 1160.6h5V1161.8h-5zM96.0 1158.6h5V1159.8h-5zM132.0 1136.0h5V1139.7h-5zM147.0 1138.2h5V1151.6h-5zM169.0 1145.3h5V1146.7h-5zM176.0 1145.8h5V1147.0h-5zM234.0 1079.0h5V1081.5h-5zM249.0 1071.2h5V1073.5h-5zM286.0 906.3h5V926.3h-5zM293.0 926.3h5V957.5h-5zM330.0 736.0h5V844.7h-5zM351.0 723.0h5V737.8h-5zM359.0 736.9h5V751.7h-5zM381.0 714.0h5V747.9h-5zM388.0 747.3h5V810.8h-5zM410.0 729.1h5V833.7h-5zM417.0 833.0h5V936.7h-5zM447.0 898.1h5V928.8h-5zM454.0 928.2h5V936.7h-5zM468.0 931.1h5V940.9h-5zM476.0 940.1h5V962.6h-5zM520.0 808.0h5V813.6h-5zM534.0 786.3h5V837.4h-5zM549.0 826.3h5V862.6h-5zM578.0 701.1h5V707.9h-5zM607.0 666.2h5V725.8h-5zM615.0 726.1h5V738.8h-5zM622.0 738.0h5V807.8h-5zM637.0 801.9h5V831.8h-5zM651.0 795.0h5V825.7h-5zM659.0 826.2h5V873.5h-5zM673.0 863.1h5V922.4h-5zM695.0 869.1h5V872.9h-5zM702.0 872.2h5V904.8h-5zM710.0 904.1h5V910.6h-5zM724.0 904.1h5V909.6h-5zM746.0 829.9h5V833.7h-5zM754.0 832.9h5V872.0h-5zM761.0 871.2h5V893.4h-5zM768.0 893.1h5V894.6h-5zM776.0 895.4h5V903.6h-5zM783.0 903.0h5V942.9h-5zM790.0 942.1h5V966.2h-5zM798.0 966.2h5V975.5h-5zM805.0 975.3h5V982.7h-5zM819.0 978.2h5V1008.5h-5zM827.0 1008.3h5V1061.8h-5zM841.0 1056.2h5V1072.6h-5zM856.0 1057.9h5V1059.1h-5zM878.0 1036.0h5V1037.5h-5zM893.0 1027.3h5V1052.5h-5zM900.0 1052.2h5V1069.7h-5zM922.0 1049.4h5V1070.5h-5zM929.0 1070.5h5V1076.6h-5zM951.0 1070.5h5V1072.4h-5zM980.0 1057.2h5V1098.5h-5zM988.0 1097.7h5V1098.9h-5zM1010.0 1090.5h5V1091.7h-5zM1017.0 1091.3h5V1094.8h-5zM1031.0 1093.3h5V1095.7h-5zM1068.0 1031.9h5V1040.6h-5zM1075.0 1040.1h5V1051.1h-5zM1090.0 1027.9h5V1034.6h-5zM1097.0 1034.0h5V1044.7h-5zM1105.0 1044.1h5V1046.4h-5zM1119.0 994.9h5V996.1h-5zM1148.0 975.2h5V999.9h-5zM1163.0 984.2h5V990.5h-5zM1170.0 990.0h5V1005.9h-5zM1178.0 1005.3h5V1006.7h-5zM1192.0 994.1h5V1003.6h-5zM1200.0 1003.2h5V1014.0h-5zM1229.0 972.3h5V976.7h-5zM1244.0 975.2h5V977.7h-5zM1251.0 977.3h5V984.7h-5zM1258.0 984.2h5V986.8h-5zM1273.0 984.2h5V1011.7h-5zM1280.0 1010.8h5V1012.0h-5zM1287.0 1012.0h5V1014.0h-5zM1295.0 1013.2h5V1015.7h-5zM1309.0 1008.2h5V1010.7h-5zM1324.0 995.1h5V996.4h-5zM1331.0 996.0h5V1004.2h-5zM1397.0 855.9h5V878.7h-5zM1412.0 863.1h5V870.7h-5zM1426.0 855.1h5V875.6h-5zM1434.0 875.1h5V876.5h-5zM1470.0 783.1h5V788.0h-5zM1492.0 635.1h5V641.8h-5zM1499.0 641.0h5V651.9h-5zM1514.0 615.1h5V632.8h-5zM1521.0 631.9h5V664.9h-5zM1529.0 664.1h5V671.9h-5zM1536.0 671.0h5V688.1h-5zM1551.0 678.0h5V701.8h-5zM1573.0 640.1h5V646.7h-5zM1587.0 630.2h5V656.8h-5zM1595.0 655.9h5V687.0h-5zM1602.0 685.8h5V690.7h-5zM1609.0 689.8h5V751.0h-5zM1638.0 641.0h5V731.0h-5zM1653.0 724.9h5V728.9h-5zM1668.0 677.1h5V737.9h-5zM1675.0 737.9h5V760.0h-5zM1704.0 665.3h5V689.6h-5zM1726.0 635.0h5V644.6h-5zM1763.0 381.1h5V387.7h-5zM1785.0 324.2h5V406.5h-5zM1792.0 406.1h5V419.7h-5zM1807.0 376.9h5V411.6h-5zM1828.0 340.0h5V384.3h-5zM1836.0 383.9h5V394.6h-5zM1843.0 394.3h5V397.6h-5zM1858.0 395.2h5V413.5h-5zM1865.0 413.1h5V532.6h-5zM1887.0 485.0h5V518.9h-5zM1894.0 518.1h5V554.0h-5zM1953.0 284.2h5V313.5h-5zM1967.0 312.0h5V314.9h-5zM1975.0 314.3h5V354.8h-5zM2004.0 195.9h5V211.7h-5zM2019.0 192.1h5V239.0h-5zM2033.0 193.0h5V210.4h-5zM2041.0 210.0h5V244.6h-5zM2048.0 243.9h5V290.9h-5zM2070.0 227.7h5V229.2h-5zM2077.0 228.8h5V256.9h-5zM2092.0 157.1h5V231.1h-5zM2099.0 230.1h5V287.9h-5zM2114.0 235.2h5V270.6h-5zM2121.0 270.1h5V323.0h-5zM2128.0 322.0h5V413.4h-5zM2136.0 412.8h5V479.7h-5zM2158.0 447.1h5V467.8h-5zM2172.0 463.1h5V469.7h-5zM2187.0 437.9h5V443.9h-5zM2201.0 419.1h5V481.6h-5zM2209.0 481.0h5V566.7h-5zM2216.0 554.0h5V663.0h-5z" fill="#f23645"/>
</g>
<path d="M855.6 813.5H977.4a7.5 7.5 0 0 1 7.5 7.5V854.9a7.5 7.5 0 0 1 -7.5 7.5H925.1L857.8 914.8L907.7 862.4H855.6a7.5 7.5 0 0 1 -7.5 -7.5V821a7.5 7.5 0 0 1 7.5 -7.5z" fill="#49b1c1" stroke="#3d9fb0" stroke-width="1" stroke-linejoin="round"/>
<text x="860.6" y="846.6" font-size="28" fill="#eaffff" textLength="113.4" lengthAdjust="spacingAndGlyphs">50WEMA</text>
<path d="M1777.3 948.2H1898a8 8 0 0 1 8 8V989.6a8 8 0 0 1 -8 8H1777.5a8 8 0 0 1 -8 -8V956.7L1722.2 902.4z" fill="#49b1c1" stroke="#3d9fb0" stroke-width="1" stroke-linejoin="round"/>
<text x="1781.3" y="982" font-size="28" fill="#eaffff" textLength="114.3" lengthAdjust="spacingAndGlyphs">200WMA</text>
<text x="2394.7" y="1279.1" font-size="11.6" fill="#131722">−4,000.00</text>
<text x="2394.7" y="1244.0" font-size="11.6" fill="#131722">0.00</text>
<text x="2394.7" y="1208.9" font-size="11.6" fill="#131722">4,000.00</text>
<text x="2394.7" y="1173.7" font-size="11.6" fill="#131722">8,000.00</text>
<text x="2394.7" y="1138.6" font-size="11.6" fill="#131722">12,000.00</text>
<text x="2394.7" y="1103.5" font-size="11.6" fill="#131722">16,000.00</text>
<text x="2394.7" y="1068.4" font-size="11.6" fill="#131722">20,000.00</text>
<text x="2394.7" y="1033.2" font-size="11.6" fill="#131722">24,000.00</text>
<text x="2394.7" y="998.1" font-size="11.6" fill="#131722">28,000.00</text>
<text x="2394.7" y="963.0" font-size="11.6" fill="#131722">32,000.00</text>
<text x="2394.7" y="927.9" font-size="11.6" fill="#131722">36,000.00</text>
<text x="2394.7" y="892.8" font-size="11.6" fill="#131722">40,000.00</text>
<text x="2394.7" y="857.6" font-size="11.6" fill="#131722">44,000.00</text>
<text x="2394.7" y="822.5" font-size="11.6" fill="#131722">48,000.00</text>
<text x="2394.7" y="787.4" font-size="11.6" fill="#131722">52,000.00</text>
<text x="2394.7" y="752.3" font-size="11.6" fill="#131722">56,000.00</text>
<text x="2394.7" y="717.1" font-size="11.6" fill="#131722">60,000.00</text>
<text x="2394.7" y="682.0" font-size="11.6" fill="#131722">64,000.00</text>
<text x="2394.7" y="646.9" font-size="11.6" fill="#131722">68,000.00</text>
<text x="2394.7" y="611.8" font-size="11.6" fill="#131722">72,000.00</text>
<text x="2394.7" y="576.6" font-size="11.6" fill="#131722">76,000.00</text>
<text x="2394.7" y="541.5" font-size="11.6" fill="#131722">80,000.00</text>
<text x="2394.7" y="506.4" font-size="11.6" fill="#131722">84,000.00</text>
<text x="2394.7" y="471.3" font-size="11.6" fill="#131722">88,000.00</text>
<text x="2394.7" y="436.2" font-size="11.6" fill="#131722">92,000.00</text>
<text x="2394.7" y="401.0" font-size="11.6" fill="#131722">96,000.00</text>
<text x="2394.7" y="365.9" font-size="11.6" fill="#131722">100,000.00</text>
<text x="2394.7" y="330.8" font-size="11.6" fill="#131722">104,000.00</text>
<text x="2394.7" y="295.7" font-size="11.6" fill="#131722">108,000.00</text>
<text x="2394.7" y="260.5" font-size="11.6" fill="#131722">112,000.00</text>
<text x="2394.7" y="225.4" font-size="11.6" fill="#131722">116,000.00</text>
<text x="2394.7" y="190.3" font-size="11.6" fill="#131722">120,000.00</text>
<text x="2394.7" y="155.2" font-size="11.6" fill="#131722">124,000.00</text>
<text x="2394.7" y="120.0" font-size="11.6" fill="#131722">128,000.00</text>
<text x="2394.7" y="84.9" font-size="11.6" fill="#131722">132,000.00</text>
<text x="2394.7" y="49.8" font-size="11.6" fill="#131722">136,000.00</text>
<rect x="2388.5" y="8.5" width="72" height="25" rx="4" fill="#fff" stroke="#eceef2"/>
<text x="2398.4" y="24.8" font-size="11.7" fill="#131722">USD</text>
<rect x="2351.3" y="125.2" width="108.3" height="16.3" fill="#dfe8f8"/>
<path d="M2385 125.2V141.5" stroke="#d3def2" stroke-width="1"/>
<text x="2356.3" y="137.3" font-size="11.6" fill="#131722">High</text>
<text x="2394.7" y="137.3" font-size="11.6" fill="#131722">126,219.03</text>
<rect x="2353.6" y="1174.3" width="92.6" height="16.3" fill="#dfe8f8"/>
<path d="M2385 1174.3V1190.6" stroke="#d3def2" stroke-width="1"/>
<text x="2358.6" y="1186.4" font-size="11.6" fill="#131722">Low</text>
<text x="2394.7" y="1186.4" font-size="11.6" fill="#131722">6,755.96</text>
<rect x="2386" y="398.2" width="66.7" height="16.7" rx="1.5" fill="#4caf50"/>
<text x="2394.7" y="409.9" font-size="11.7" fill="#e9ffe9">95,105.63</text>
<rect x="2386" y="633" width="66.7" height="16.7" rx="1.5" fill="#2962ff"/>
<text x="2394.7" y="644.7" font-size="11.7" fill="#e6eeff">68,307.70</text>
<rect x="2386" y="655.2" width="66.7" height="30.4" rx="1.5" fill="#f23645"/>
<text x="2394.7" y="665.9" font-size="11.7" fill="#ffe4e6">65,834.92</text>
<text x="2394.7" y="679.8" font-size="11.7" fill="#ffd5d9">2d 19h</text>
<g clip-path="url(#taxis)">
<text x="24.9" y="1312" font-size="11.7" text-anchor="middle" fill="#131722">May</text>
<text x="90.7" y="1312" font-size="11.7" text-anchor="middle" fill="#131722">Jul</text>
<text x="156.5" y="1312" font-size="11.7" text-anchor="middle" fill="#131722">Sep</text>
<text x="215.0" y="1312" font-size="11.7" text-anchor="middle" fill="#131722">Nov</text>
<text x="280.9" y="1312" font-size="11.7" text-anchor="middle" fill="#131722" font-weight="bold">2021</text>
<text x="339.3" y="1312" font-size="11.7" text-anchor="middle" fill="#131722">Mar</text>
<text x="405.2" y="1312" font-size="11.7" text-anchor="middle" fill="#131722">May</text>
<text x="471.0" y="1312" font-size="11.7" text-anchor="middle" fill="#131722">Jul</text>
<text x="536.8" y="1312" font-size="11.7" text-anchor="middle" fill="#131722">Sep</text>
<text x="595.3" y="1312" font-size="11.7" text-anchor="middle" fill="#131722">Nov</text>
<text x="661.1" y="1312" font-size="11.7" text-anchor="middle" fill="#131722" font-weight="bold">2022</text>
<text x="726.9" y="1312" font-size="11.7" text-anchor="middle" fill="#131722">Mar</text>
<text x="785.4" y="1312" font-size="11.7" text-anchor="middle" fill="#131722">May</text>
<text x="851.2" y="1312" font-size="11.7" text-anchor="middle" fill="#131722">Jul</text>
<text x="917.0" y="1312" font-size="11.7" text-anchor="middle" fill="#131722">Sep</text>
<text x="982.8" y="1312" font-size="11.7" text-anchor="middle" fill="#131722">Nov</text>
<text x="1041.3" y="1312" font-size="11.7" text-anchor="middle" fill="#131722" font-weight="bold">2023</text>
<text x="1107.1" y="1312" font-size="11.7" text-anchor="middle" fill="#131722">Mar</text>
<text x="1165.6" y="1312" font-size="11.7" text-anchor="middle" fill="#131722">May</text>
<text x="1231.4" y="1312" font-size="11.7" text-anchor="middle" fill="#131722">Jul</text>
<text x="1297.2" y="1312" font-size="11.7" text-anchor="middle" fill="#131722">Sep</text>
<text x="1363.0" y="1312" font-size="11.7" text-anchor="middle" fill="#131722">Nov</text>
<text x="1421.5" y="1312" font-size="11.7" text-anchor="middle" fill="#131722" font-weight="bold">2024</text>
<text x="1487.3" y="1312" font-size="11.7" text-anchor="middle" fill="#131722">Mar</text>
<text x="1553.1" y="1312" font-size="11.7" text-anchor="middle" fill="#131722">May</text>
<text x="1611.6" y="1312" font-size="11.7" text-anchor="middle" fill="#131722">Jul</text>
<text x="1677.4" y="1312" font-size="11.7" text-anchor="middle" fill="#131722">Sep</text>
<text x="1743.3" y="1312" font-size="11.7" text-anchor="middle" fill="#131722">Nov</text>
<text x="1809.1" y="1312" font-size="11.7" text-anchor="middle" fill="#131722" font-weight="bold">2025</text>
<text x="1867.6" y="1312" font-size="11.7" text-anchor="middle" fill="#131722">Mar</text>
<text x="1933.4" y="1312" font-size="11.7" text-anchor="middle" fill="#131722">May</text>
<text x="1999.2" y="1312" font-size="11.7" text-anchor="middle" fill="#131722">Jul</text>
<text x="2057.7" y="1312" font-size="11.7" text-anchor="middle" fill="#131722">Sep</text>
<text x="2123.5" y="1312" font-size="11.7" text-anchor="middle" fill="#131722">Nov</text>
<text x="2189.3" y="1312" font-size="11.7" text-anchor="middle" fill="#131722" font-weight="bold">2026</text>
<text x="2247.8" y="1312" font-size="11.7" text-anchor="middle" fill="#131722">Mar</text>
<text x="2313.6" y="1312" font-size="11.7" text-anchor="middle" fill="#131722">May</text>
<text x="2379.4" y="1312" font-size="11.7" text-anchor="middle" fill="#131722">Jul</text>
</g>
<text x="18.5" y="23.8" font-size="12" fill="#131722" textLength="36.3" lengthAdjust="spacingAndGlyphs">Bitcoin</text>
<text x="60.4" y="23.8" font-size="12" fill="#131722" text-anchor="middle">/</text>
<text x="65.8" y="23.8" font-size="12" fill="#131722" textLength="20.0" lengthAdjust="spacingAndGlyphs">U.S.</text>
<text x="89.4" y="23.8" font-size="12" fill="#131722" textLength="30.9" lengthAdjust="spacingAndGlyphs">Dollar</text>
<text x="125.1" y="23.8" font-size="12" fill="#131722" text-anchor="middle">·</text>
<text x="130" y="23.8" font-size="12" fill="#131722" textLength="17.0" lengthAdjust="spacingAndGlyphs">1W</text>
<text x="151.9" y="23.8" font-size="12" fill="#131722" text-anchor="middle">·</text>
<text x="156.7" y="23.8" font-size="12" fill="#131722" textLength="32.7" lengthAdjust="spacingAndGlyphs">INDEX</text>
<text x="196" y="23.8" font-size="12" fill="#131722" textLength="8.5" lengthAdjust="spacingAndGlyphs">O</text>
<text x="205.7" y="23.8" font-size="12" fill="#f23645" textLength="52.1" lengthAdjust="spacingAndGlyphs">78,249.10</text>
<text x="263.9" y="23.8" font-size="12" fill="#131722" textLength="7.7" lengthAdjust="spacingAndGlyphs">H</text>
<text x="272.4" y="23.8" font-size="12" fill="#f23645" textLength="52.8" lengthAdjust="spacingAndGlyphs">79,335.00</text>
<text x="331.4" y="23.8" font-size="12" fill="#131722" textLength="5.5" lengthAdjust="spacingAndGlyphs">L</text>
<text x="337.4" y="23.8" font-size="12" fill="#f23645" textLength="52.3" lengthAdjust="spacingAndGlyphs">60,132.75</text>
<text x="396" y="23.8" font-size="12" fill="#131722" textLength="7.4" lengthAdjust="spacingAndGlyphs">C</text>
<text x="403.8" y="23.8" font-size="12" fill="#f23645" textLength="52.1" lengthAdjust="spacingAndGlyphs">65,834.92</text>
<text x="462.4" y="23.8" font-size="12" fill="#f23645" textLength="58.8" lengthAdjust="spacingAndGlyphs">−11,084.26</text>
<text x="525.2" y="23.8" font-size="12" fill="#f23645" textLength="53.2" lengthAdjust="spacingAndGlyphs">(−14.41%)</text>
<g fill="#131722">
<path d="M12.05 1343.4H24.05V1357.9H18.1V1348.8H12.05z"/>
<circle cx="29" cy="1345.9" r="2.8"/>
<path d="M33.7 1343.4H41.4L36.3 1357.9H29.4z"/>
<text x="49" y="1357.9" font-size="20" font-weight="bold" textLength="120.7" lengthAdjust="spacingAndGlyphs">TradingView</text>
</g>
</svg>
</body></html>
